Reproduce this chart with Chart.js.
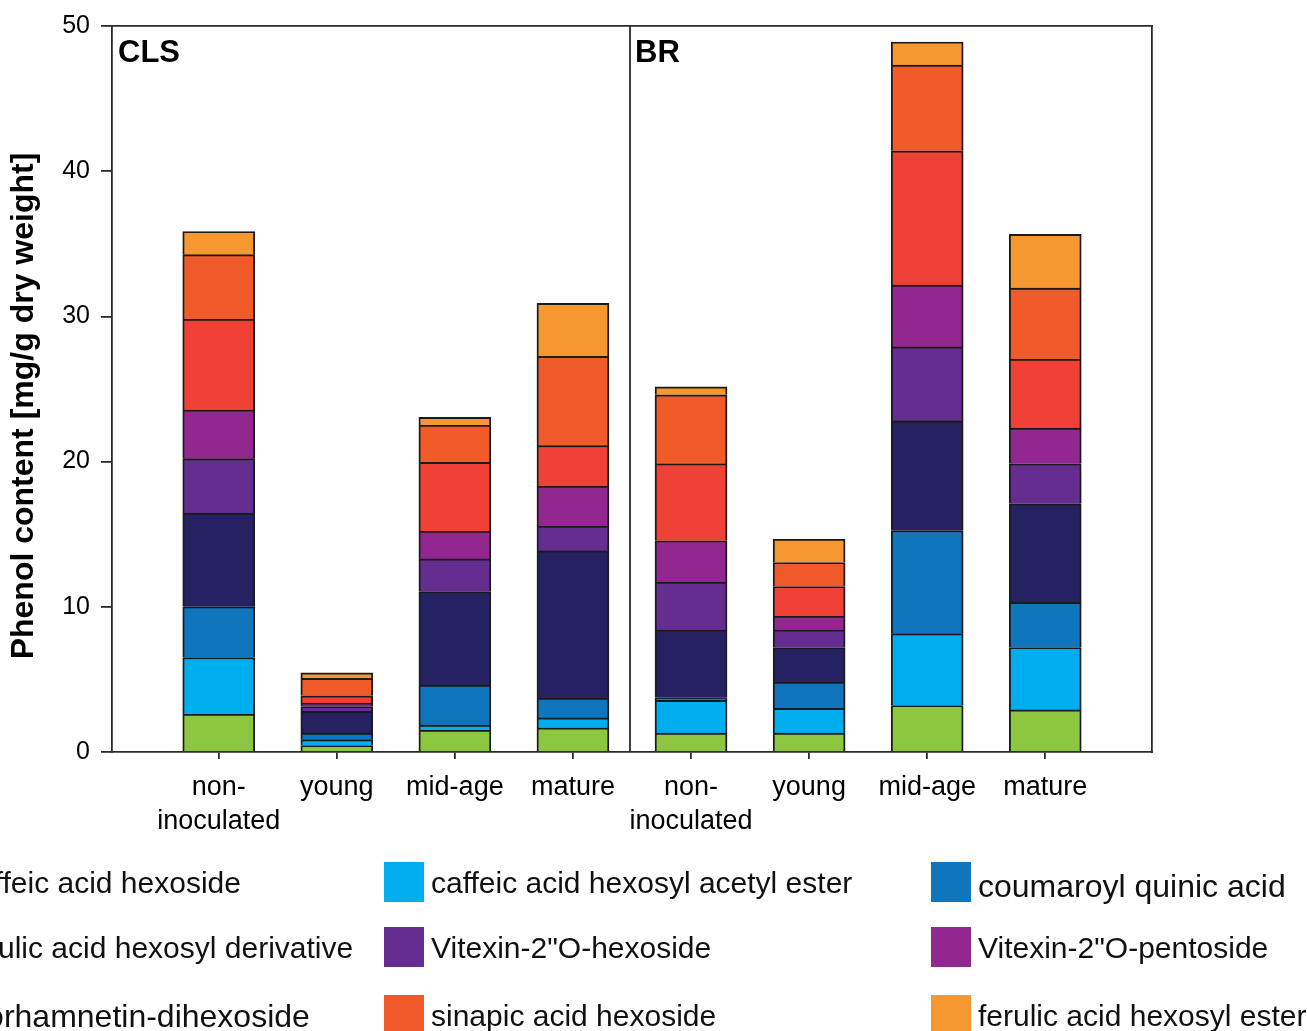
<!DOCTYPE html>
<html>
<head>
<meta charset="utf-8">
<script src="https://cdn.jsdelivr.net/npm/chart.js@4/dist/chart.umd.min.js"></script>
<style>
  html, body { margin: 0; padding: 0; background: #fff; overflow: hidden; }
  #wrap { width: 1307px; height: 1031px; position: relative; }
</style>
</head>
<body>
<div id="wrap"><canvas id="chart" width="1307" height="1031"></canvas></div>
<script>
// Experimental groups and sampling stages
const groups = ['CLS', 'BR'];
const categories = ['non-inoculated', 'young', 'mid-age', 'mature',
                    'non-inoculated', 'young', 'mid-age', 'mature'];
const tickLabels = [['non-', 'inoculated'], 'young', 'mid-age', 'mature',
                    ['non-', 'inoculated'], 'young', 'mid-age', 'mature'];
const yTicks = [0, 10, 20, 30, 40, 50];

// Phenol content per compound [mg/g dry weight], one value per bar
const caffeicAcidHexoside          = [2.60, 0.45, 1.50, 1.65, 1.30, 1.30, 3.20, 2.90];
const caffeicAcidHexosylAcetylEster = [3.90, 0.40, 0.35, 0.70, 2.25, 1.70, 4.95, 4.30];
const coumaroylQuinicAcid          = [3.50, 0.45, 2.75, 1.35, 0.20, 1.80, 7.10, 3.10];
const ferulicAcidHexosylDerivative = [6.45, 1.50, 6.45, 10.15, 4.65, 2.40, 7.55, 6.80];
const vitexinHexoside              = [3.75, 0.33, 2.25, 1.70, 3.30, 1.20, 5.10, 2.75];
const vitexinPentoside             = [3.35, 0.24, 1.90, 2.75, 2.85, 0.95, 4.25, 2.45];
const isorhamnetinDihexoside       = [6.25, 0.50, 4.75, 2.80, 5.30, 2.05, 9.25, 4.75];
const sinapicAcidHexoside          = [4.45, 1.20, 2.55, 6.15, 4.75, 1.65, 5.90, 4.90];
const ferulicAcidHexosylEster      = [1.60, 0.38, 0.55, 3.65, 0.55, 1.60, 1.60, 3.70];

const FONT = "'Liberation Sans', Arial, Helvetica, sans-serif";
const INK = '#1a1a1a';
const AXIS = '#2b2b2b';

// bars sit at 1..n on a linear axis so the outer margins can be wider than half a slot
const positions = categories.map((_, i) => i + 1);

const series = [
  { label: 'caffeic acid hexoside',            data: caffeicAcidHexoside,          color: '#8dc63f' },
  { label: 'caffeic acid hexosyl acetyl ester', data: caffeicAcidHexosylAcetylEster, color: '#00aeef' },
  { label: 'coumaroyl quinic acid',            data: coumaroylQuinicAcid,          color: '#0f75bc' },
  { label: 'ferulic acid hexosyl derivative',  data: ferulicAcidHexosylDerivative, color: '#262262' },
  { label: 'Vitexin-2"O-hexoside',             data: vitexinHexoside,              color: '#662d91' },
  { label: 'Vitexin-2"O-pentoside',            data: vitexinPentoside,             color: '#92278f' },
  { label: 'isorhamnetin-dihexoside',          data: isorhamnetinDihexoside,       color: '#ef4136' },
  { label: 'sinapic acid hexoside',            data: sinapicAcidHexoside,          color: '#f15a29' },
  { label: 'ferulic acid hexosyl ester',       data: ferulicAcidHexosylEster,      color: '#f7972f' }
];

// Draws the group divider, group names, the rotated value-axis title and the 3x3 legend
const decorPlugin = {
  id: 'decor',
  afterDraw(chart, args, opts) {
    const { ctx, chartArea } = chart;
    const xs = chart.scales.x;
    ctx.save();

    // divider between the two groups
    const xd = Math.round(xs.getPixelForValue(4.5)) - 2;
    ctx.strokeStyle = AXIS;
    ctx.lineWidth = 1.8;
    ctx.beginPath();
    ctx.moveTo(xd, chartArea.top);
    ctx.lineTo(xd, chartArea.bottom);
    ctx.stroke();

    // group names
    ctx.fillStyle = '#000';
    ctx.font = `bold 31px ${FONT}`;
    ctx.textAlign = 'left';
    ctx.textBaseline = 'alphabetic';
    ctx.fillText(groups[0], chartArea.left + 6, chartArea.top + 36);
    ctx.fillText(groups[1], xd + 5, chartArea.top + 36);

    // value-axis title
    ctx.save();
    ctx.translate(opts.titleX, opts.titleY);
    ctx.rotate(-Math.PI / 2);
    ctx.font = `bold 32px ${FONT}`;
    ctx.textAlign = 'center';
    ctx.textBaseline = 'middle';
    ctx.fillText(opts.title, 0, 0);
    ctx.restore();

    // legend, three columns by three rows
    chart.data.datasets.forEach((ds, i) => {
      const bx = opts.columns[i % 3];
      const cy = opts.rows[Math.floor(i / 3)];
      ctx.fillStyle = ds.backgroundColor;
      ctx.fillRect(bx, cy - 20, 40, 40);
      const size = opts.fontSizes[i] || 30;
      ctx.font = `${size}px ${FONT}`;
      ctx.fillStyle = '#111';
      ctx.textAlign = 'left';
      ctx.textBaseline = 'middle';
      ctx.fillText(ds.label, bx + 47, cy + 3 + (opts.textShift[i] || 0));
    });
    ctx.restore();
  }
};

const frameAxis = {
  display: true,
  ticks: { display: false },
  grid: { display: false },
  border: { display: true, color: AXIS, width: 1.8 }
};

new Chart(document.getElementById('chart'), {
  type: 'bar',
  data: {
    labels: positions,
    datasets: series.map(s => ({
      label: s.label,
      data: s.data,
      backgroundColor: s.color,
      borderColor: INK,
      borderWidth: 1.9,
      barThickness: 72
    }))
  },
  options: {
    responsive: false,
    animation: false,
    layout: { padding: { top: 23, right: 155, bottom: 0, left: 0 } },
    plugins: {
      legend: { display: false },
      tooltip: { enabled: false },
      decor: {
        title: 'Phenol content [mg/g dry weight]',
        titleX: 24,
        titleY: 406,
        columns: [-84, 384, 931],
        rows: [882, 947, 1015],
        fontSizes: [30, 30, 32, 30, 30, 30, 32, 30, 30],
        textShift: [0, 0, 3, 0, 0, 0, 0, 0, 0]
      }
    },
    scales: {
      x: {
        type: 'linear',
        position: 'bottom',
        stacked: true,
        offset: false,
        min: 0.096,
        max: 8.904,
        afterBuildTicks: s => { s.ticks = positions.map(v => ({ value: v })); },
        ticks: {
          callback: (v, i) => tickLabels[i],
          autoSkip: false,
          maxRotation: 0,
          minRotation: 0,
          padding: 12,
          color: '#000',
          font: { family: FONT, size: 27, lineHeight: 1.24 }
        },
        grid: { offset: false, drawOnChartArea: false, drawTicks: true, tickLength: 7, color: AXIS, lineWidth: 1.8 },
        border: { display: true, color: AXIS, width: 1.8 },
        afterFit: s => { s.height = 279; }
      },
      y: {
        stacked: true,
        min: 0,
        max: 50,
        afterBuildTicks: s => { s.ticks = yTicks.map(v => ({ value: v })); },
        ticks: {
          padding: 11,
          color: '#000',
          font: { family: FONT, size: 25 }
        },
        grid: { drawOnChartArea: false, drawTicks: true, tickLength: 11, color: AXIS, lineWidth: 1.8 },
        border: { display: true, color: AXIS, width: 1.8 },
        afterFit: s => { s.width = 112; }
      },
      xTop: Object.assign({ type: 'linear', axis: 'x', position: 'top', afterFit: s => { s.height = 0; } }, frameAxis),
      yRight: Object.assign({ type: 'linear', axis: 'y', position: 'right', afterFit: s => { s.width = 0; } }, frameAxis)
    }
  },
  plugins: [decorPlugin]
});
</script>
</body>
</html>
